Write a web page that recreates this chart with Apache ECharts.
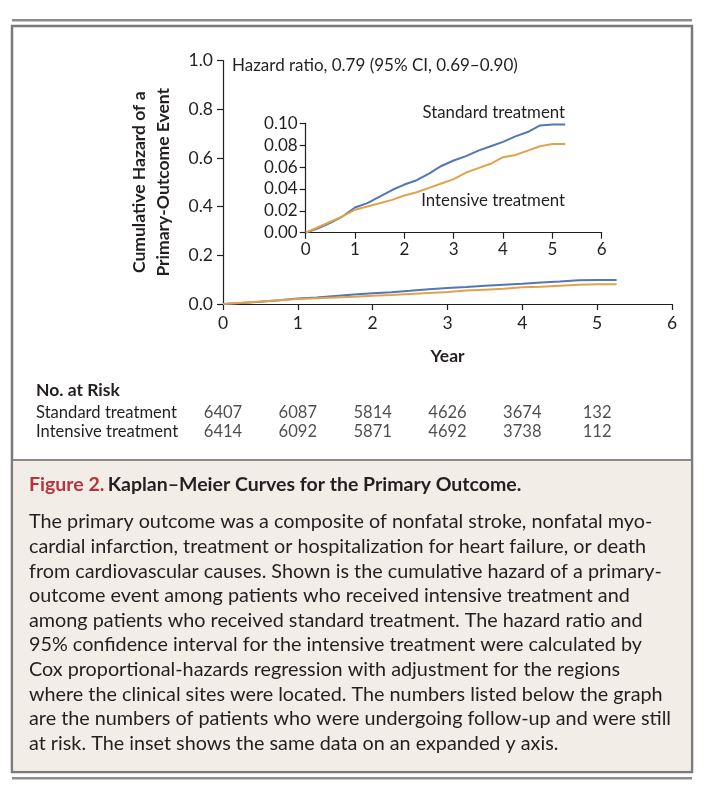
<!DOCTYPE html>
<html>
<head>
<meta charset="utf-8">
<script src="https://cdn.jsdelivr.net/npm/echarts@6/dist/echarts.min.js"></script>
<style>
html,body{margin:0;padding:0;background:#fff;}
#chart{width:710px;height:797px;}
</style>
</head>
<body>
<div id="chart"></div>
<script>
// ---- data ----
const years = [0, 0.25, 0.5, 0.75, 1, 1.25, 1.5, 1.75, 2, 2.25, 2.5, 2.75, 3, 3.25, 3.5, 3.75, 4, 4.25, 4.5, 4.75, 5, 5.26];
const standardHazard = [0, 0.004, 0.009, 0.015, 0.023, 0.027, 0.033, 0.039, 0.044, 0.048, 0.054, 0.061, 0.066, 0.070, 0.075, 0.079, 0.083, 0.088, 0.092, 0.098, 0.099, 0.099];
const intensiveHazard = [0, 0.005, 0.010, 0.015, 0.021, 0.024, 0.027, 0.030, 0.034, 0.037, 0.041, 0.045, 0.049, 0.055, 0.059, 0.063, 0.069, 0.071, 0.075, 0.079, 0.081, 0.081];
const riskYears = [0, 1, 2, 3, 4, 5];
const riskStandard = [6407, 6087, 5814, 4626, 3674, 132];
const riskIntensive = [6414, 6092, 5871, 4692, 3738, 112];
const groupNames = ['Standard treatment', 'Intensive treatment'];
const hazardText = 'Hazard ratio, 0.79 (95% CI, 0.69–0.90)';
const captionTitleRed = 'Figure 2.';
const captionTitle = 'Kaplan–Meier Curves for the Primary Outcome.';
const captionLines = [
  'The primary outcome was a composite of nonfatal stroke, nonfatal myo-',
  'cardial infarction, treatment or hospitalization for heart failure, or death',
  'from cardiovascular causes. Shown is the cumulative hazard of a primary-',
  'outcome event among patients who received intensive treatment and',
  'among patients who received standard treatment. The hazard ratio and',
  '95% confidence interval for the intensive treatment were calculated by',
  'Cox proportional-hazards regression with adjustment for the regions',
  'where the clinical sites were located. The numbers listed below the graph',
  'are the numbers of patients who were undergoing follow-up and were still',
  'at risk. The inset shows the same data on an expanded y axis.'
];

const FONT = 'Lato, "Open Sans", sans-serif';
const BLUE = '#5376b6';
const ORANGE = '#e3a24a';
const INK = '#231f20';

const pair = (xs, ys) => xs.map((x, i) => [x, ys[i]]);

const chart = echarts.init(document.getElementById('chart'), null, {renderer: 'canvas'});

const axisLine = {show: true, lineStyle: {color: INK, width: 1.2}};
const axisTick = (len) => ({show: true, length: len, lineStyle: {color: INK, width: 1.2}});
const labelStyle = (margin, size) => ({color: INK, fontFamily: FONT, fontSize: size, margin: margin});

const riskData = [];
riskYears.forEach((y, i) => {
  riskData.push([y, groupNames[0], riskStandard[i]]);
  riskData.push([y, groupNames[1], riskIntensive[i]]);
});

const graphics = [
  {type: 'rect', shape: {x: 12, y: 19, width: 680, height: 2.5}, style: {fill: '#8c8c8c'}, z: -5},
  {type: 'rect', shape: {x: 12, y: 26, width: 680, height: 746}, style: {fill: '#ffffff', stroke: '#7a7a7a', lineWidth: 2.5}, z: -10},
  {type: 'rect', shape: {x: 13.5, y: 460, width: 677, height: 310.5}, style: {fill: '#f3ede7'}, z: -9},
  {type: 'line', shape: {x1: 13, y1: 460, x2: 691, y2: 460}, style: {stroke: '#8a8a8a', lineWidth: 2}, z: -8},
  {type: 'rect', shape: {x: 12, y: 777, width: 680, height: 2.5}, style: {fill: '#8c8c8c'}, z: -5},
  {type: 'text', x: 232, y: 66, style: {text: hazardText, font: '17px ' + FONT, fill: INK, verticalAlign: 'middle'}},
  {type: 'text', x: 565, y: 113, style: {text: groupNames[0], font: '16.8px ' + FONT, fill: INK, align: 'right', verticalAlign: 'middle'}},
  {type: 'text', x: 565, y: 201, style: {text: groupNames[1], font: '16.8px ' + FONT, fill: INK, align: 'right', verticalAlign: 'middle'}},
  {type: 'text', x: 36, y: 390, style: {text: 'No. at Risk', font: 'bold 17.5px ' + FONT, fill: INK, verticalAlign: 'middle'}},
  {type: 'text', x: 29, y: 485, style: {
    text: '{r|' + captionTitleRed + '} {b|' + captionTitle + '}',
    verticalAlign: 'middle',
    rich: {
      r: {fontFamily: FONT, fontSize: 19.5, fontWeight: 'bold', fill: '#b8343d'},
      b: {fontFamily: FONT, fontSize: 19.5, fontWeight: 'bold', fill: INK}
    }
  }}
];
captionLines.forEach((t, i) => {
  graphics.push({type: 'text', x: 29, y: 522 + i * 24.6, style: {text: t, font: '19.8px ' + FONT, fill: INK, verticalAlign: 'middle'}});
});

const option = {
  backgroundColor: '#ffffff',
  animation: false,
  textStyle: {fontFamily: FONT},
  graphic: graphics,
  grid: [
    {left: 223, top: 60.5, width: 449, height: 243.5, containLabel: false},
    {left: 305.7, top: 123.3, width: 296, height: 109.4, containLabel: false},
    {left: 223, top: 403.5, width: 449, height: 38, containLabel: false}
  ],
  xAxis: [
    {gridIndex: 0, type: 'value', min: 0, max: 6, interval: 1, axisLine: axisLine, axisTick: axisTick(6),
     axisLabel: labelStyle(10, 17.5), splitLine: {show: false},
     name: 'Year', nameLocation: 'middle', nameGap: 43,
     nameTextStyle: {color: INK, fontFamily: FONT, fontSize: 17.5, fontWeight: 'bold'}},
    {gridIndex: 1, type: 'value', min: 0, max: 6, interval: 1, axisLine: axisLine, axisTick: axisTick(6),
     axisLabel: labelStyle(8, 17), splitLine: {show: false}},
    {gridIndex: 2, type: 'value', min: 0, max: 6, interval: 1, show: false}
  ],
  yAxis: [
    {gridIndex: 0, type: 'value', min: 0, max: 1, interval: 0.2, axisLine: axisLine, axisTick: axisTick(6),
     axisLabel: Object.assign(labelStyle(10, 17.5), {formatter: v => v.toFixed(1)}), splitLine: {show: false},
     name: 'Cumulative Hazard of a\nPrimary-Outcome Event', nameLocation: 'middle', nameGap: 48, nameRotate: 90,
     nameTextStyle: {color: INK, fontFamily: FONT, fontSize: 17.5, fontWeight: 'bold', lineHeight: 24}},
    {gridIndex: 1, type: 'value', min: 0, max: 0.1, interval: 0.02, axisLine: axisLine, axisTick: axisTick(6),
     axisLabel: Object.assign(labelStyle(8, 17), {formatter: v => v.toFixed(2)}), splitLine: {show: false}},
    {gridIndex: 2, type: 'category', data: groupNames, inverse: true,
     axisLine: {show: false}, axisTick: {show: false}, splitLine: {show: false},
     axisLabel: {show: true, interval: 0, hideOverlap: false, align: 'left', margin: 187, color: INK, fontFamily: FONT, fontSize: 16.6}}
  ],
  series: [
    {name: 'Standard treatment', type: 'line', xAxisIndex: 0, yAxisIndex: 0, data: pair(years, standardHazard),
     showSymbol: false, lineStyle: {color: BLUE, width: 2}, z: 3},
    {name: 'Intensive treatment', type: 'line', xAxisIndex: 0, yAxisIndex: 0, data: pair(years, intensiveHazard),
     showSymbol: false, lineStyle: {color: ORANGE, width: 2}, z: 3},
    {name: 'Standard treatment inset', type: 'line', xAxisIndex: 1, yAxisIndex: 1, data: pair(years, standardHazard),
     showSymbol: false, lineStyle: {color: BLUE, width: 2}, z: 3},
    {name: 'Intensive treatment inset', type: 'line', xAxisIndex: 1, yAxisIndex: 1, data: pair(years, intensiveHazard),
     showSymbol: false, lineStyle: {color: ORANGE, width: 2}, z: 3},
    {name: 'At risk', type: 'scatter', xAxisIndex: 2, yAxisIndex: 2, data: riskData,
     symbolSize: 1, itemStyle: {color: 'rgba(0,0,0,0)'},
     label: {show: true, position: 'inside', color: INK, fontFamily: FONT, fontSize: 16.6,
       formatter: p => String(p.value[2])}}
  ]
};
chart.setOption(option);
</script>
</body>
</html>
